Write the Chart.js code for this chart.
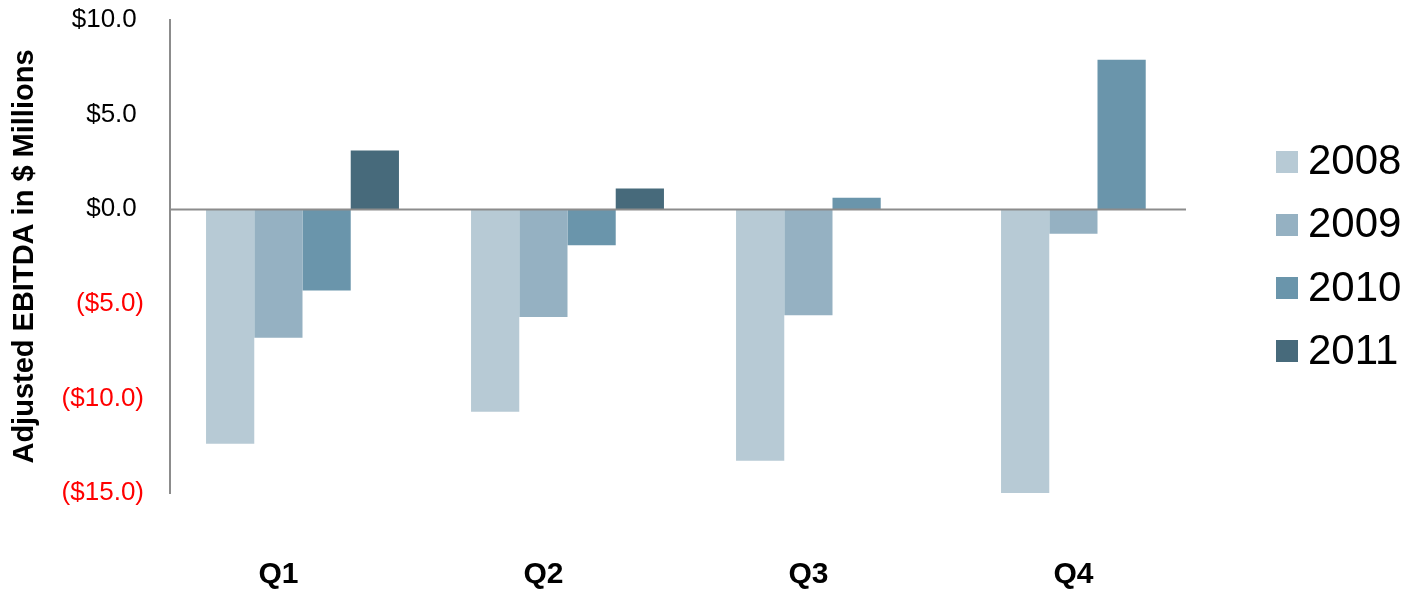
<!DOCTYPE html>
<html>
<head>
<meta charset="utf-8">
<title>Adjusted EBITDA by Quarter</title>
<script src="https://cdn.jsdelivr.net/npm/chart.js@4/dist/chart.umd.min.js"></script>
<style>
  html, body { margin: 0; padding: 0; background: #ffffff; }
  #wrap { width: 1410px; height: 589px; position: relative; }
</style>
</head>
<body>
<div id="wrap"><canvas id="chart"></canvas></div>
<script>
// Quarterly adjusted EBITDA, $ millions
const quarters = ['Q1', 'Q2', 'Q3', 'Q4'];
const years = ['2008', '2009', '2010', '2011'];
const ebitda2008 = [-12.4, -10.7, -13.3, -15.1];
const ebitda2009 = [-6.8, -5.7, -5.6, -1.3];
const ebitda2010 = [-4.3, -1.9, 0.6, 7.9];
const ebitda2011 = [3.1, 1.1, null, null];
const yearColors = ['#b7cad5', '#95b1c2', '#6a95ab', '#476a7b'];

const FONT = '"Liberation Sans", Arial, Helvetica, sans-serif';

// Gray baseline at zero, drawn over the bars
const zeroLine = {
  id: 'zeroLine',
  afterDatasetsDraw(chart) {
    const { ctx, chartArea, scales } = chart;
    const y = Math.round(scales.y.getPixelForValue(0)) + 0.5;
    const right = chartArea.left + (chartArea.right - chartArea.left) * 0.9585;
    ctx.save();
    ctx.strokeStyle = '#8c8c8c';
    ctx.lineWidth = 2;
    ctx.beginPath();
    ctx.moveTo(chartArea.left, y);
    ctx.lineTo(right, y);
    ctx.stroke();
    ctx.restore();
  }
};

// Legend to the right of the plot, centred on the plot height
const sideLegend = {
  id: 'sideLegend',
  afterDraw(chart) {
    const { ctx, chartArea } = chart;
    const sets = chart.data.datasets;
    const rowGap = 63.3;
    const mid = (chartArea.top + chartArea.bottom) / 2;
    const boxX = chartArea.right + 46;
    const box = 22;
    ctx.save();
    ctx.font = '42px ' + FONT;
    ctx.textBaseline = 'middle';
    ctx.textAlign = 'left';
    sets.forEach((ds, i) => {
      const cy = mid + (i - (sets.length - 1) / 2) * rowGap;
      ctx.fillStyle = ds.backgroundColor;
      ctx.fillRect(boxX, Math.round(cy - box / 2), box, box);
      ctx.fillStyle = '#000000';
      ctx.fillText(ds.label, boxX + 32, cy + 1);
    });
    ctx.restore();
  }
};

const series = [ebitda2008, ebitda2009, ebitda2010, ebitda2011];

new Chart(document.getElementById('chart'), {
  type: 'bar',
  data: {
    labels: quarters,
    datasets: years.map((yr, i) => ({
      label: yr,
      data: series[i],
      backgroundColor: yearColors[i],
      borderWidth: 0,
      categoryPercentage: 0.728,
      barPercentage: 1.0
    }))
  },
  options: {
    responsive: true,
    maintainAspectRatio: false,
    animation: false,
    layout: { padding: { top: 20, right: 180, bottom: 0, left: 0 } },
    plugins: {
      legend: { display: false },
      tooltip: { enabled: false }
    },
    scales: {
      x: {
        grid: { display: false, drawTicks: false },
        border: { display: false },
        ticks: {
          color: '#000000',
          font: { family: FONT, size: 30, weight: 'bold' },
          padding: 64,
          labelOffset: -24,
          maxRotation: 0
        },
        afterFit(scale) {
          scale.height = 96;
          scale.paddingLeft = 0;
          scale.paddingRight = 0;
        }
      },
      y: {
        min: -15,
        max: 10,
        grid: { display: false, drawTicks: false },
        border: { display: true, color: '#8c8c8c', width: 2 },
        ticks: {
          stepSize: 5,
          padding: 26,
          font: { family: FONT, size: 26 },
          color: (c) => (c.tick && c.tick.value < 0 ? '#ff0000' : '#000000'),
          callback: (v) => v < 0 ? '($' + Math.abs(v).toFixed(1) + ')' : '$' + v.toFixed(1) + ' '
        },
        title: {
          display: true,
          text: 'Adjusted EBITDA in $ Millions',
          color: '#000000',
          font: { family: FONT, size: 29, weight: 'bold' },
          padding: { top: 8, bottom: 0 }
        },
        afterFit(scale) {
          scale.width = 170;
          scale.paddingTop = 0;
          scale.paddingBottom = 0;
        }
      }
    }
  },
  plugins: [zeroLine, sideLegend]
});
</script>
</body>
</html>
